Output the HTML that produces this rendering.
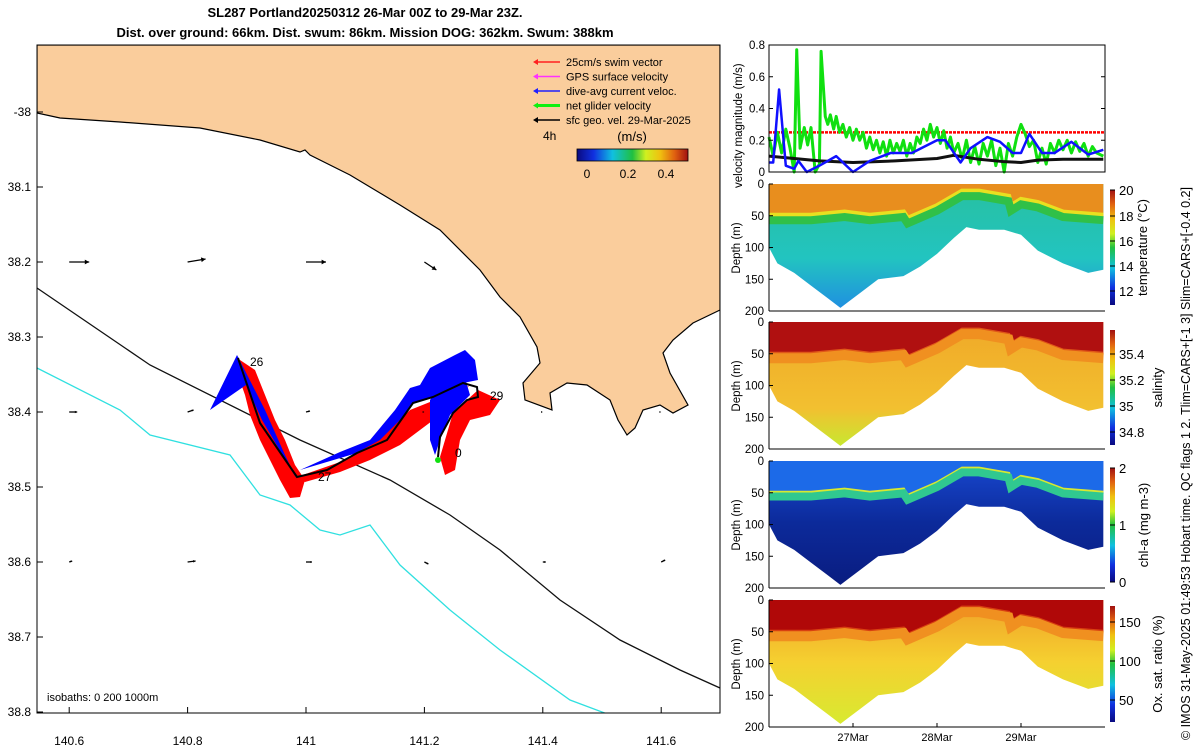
<!DOCTYPE html>
<html><head><meta charset="utf-8"><style>
body{margin:0;background:#fff;width:1200px;height:750px;overflow:hidden;font-family:"Liberation Sans",sans-serif}
svg text{font-family:"Liberation Sans",sans-serif}
</style></head><body>
<svg id="s" width="1200" height="750" xmlns="http://www.w3.org/2000/svg">
<defs>
<linearGradient id="cbjet" x1="0" x2="1" y1="0" y2="0">
<stop offset="0" stop-color="#0a0a80"/><stop offset="0.15" stop-color="#1030e0"/><stop offset="0.32" stop-color="#10c0e0"/><stop offset="0.5" stop-color="#20c040"/><stop offset="0.62" stop-color="#d0f020"/><stop offset="0.75" stop-color="#f0c010"/><stop offset="0.88" stop-color="#e06010"/><stop offset="1" stop-color="#a01010"/></linearGradient>
<linearGradient id="cbjetv" x1="0" x2="0" y1="1" y2="0">
<stop offset="0" stop-color="#0a0a80"/><stop offset="0.15" stop-color="#1030e0"/><stop offset="0.32" stop-color="#10c0e0"/><stop offset="0.5" stop-color="#20c040"/><stop offset="0.62" stop-color="#d0f020"/><stop offset="0.75" stop-color="#f0c010"/><stop offset="0.88" stop-color="#e06010"/><stop offset="1" stop-color="#a01010"/></linearGradient>
<linearGradient id="gT" x1="0" x2="0" y1="0" y2="1"><stop offset="0" stop-color="#28c0a0"/><stop offset="0.6" stop-color="#22c4c0"/><stop offset="1" stop-color="#2090e0"/></linearGradient>
<linearGradient id="gS" x1="0" x2="0" y1="0" y2="1"><stop offset="0" stop-color="#f0a828"/><stop offset="0.7" stop-color="#f2c030"/><stop offset="1" stop-color="#c8e830"/></linearGradient>
<linearGradient id="gC" x1="0" x2="0" y1="0" y2="1"><stop offset="0" stop-color="#1848d0"/><stop offset="0.5" stop-color="#0c2a9a"/><stop offset="1" stop-color="#0a1c80"/></linearGradient>
<linearGradient id="gO" x1="0" x2="0" y1="0" y2="1"><stop offset="0" stop-color="#f0a028"/><stop offset="0.5" stop-color="#f5d030"/><stop offset="1" stop-color="#d8ea30"/></linearGradient>
<clipPath id="mapclip"><rect x="37" y="45" width="683" height="668"/></clipPath>
</defs>
<g id="title" font-weight="bold" font-size="13" text-anchor="middle">
<text x="365" y="17">SL287 Portland20250312 26-Mar 00Z to 29-Mar 23Z.</text>
<text x="365" y="37">Dist. over ground: 66km. Dist. swum: 86km. Mission DOG: 362km. Swum: 388km</text>
</g>
<g id="map" clip-path="url(#mapclip)"></g>
<g id="mapax"></g>
<g id="right"></g>
<text transform="translate(1190,740) rotate(-90)" font-size="12.5">© IMOS 31-May-2025 01:49:53 Hobart time. QC flags 1  2. Tlim=CARS+[-1 3] Slim=CARS+[-0.4 0.2]</text>
</svg>
<script>
const NS="http://www.w3.org/2000/svg";
function mk(p,tag,at,txt){const e=document.createElementNS(NS,tag);for(const k in at)e.setAttribute(k,at[k]);if(txt!==undefined)e.textContent=txt;p.appendChild(e);return e;}
// ---------- MAP DATA ----------
const lonTicks=[140.6,140.8,141,141.2,141.4,141.6];
const latTicks=[38,38.1,38.2,38.3,38.4,38.5,38.6,38.7,38.8];
const latLabels=["-38","38.1","38.2","38.3","38.4","38.5","38.6","38.7","38.8"];
const vecLon=[140.6,140.8,141,141.2,140.6,140.8,141,141.2,141.4,141.6,140.6,140.8,141,141.2,141.4,141.6];
const vecLat=[38.2,38.2,38.2,38.2,38.4,38.4,38.4,38.4,38.4,38.4,38.6,38.6,38.6,38.6,38.6,38.6];
const vecU=[0.2,0.18,0.2,0.12,0.08,0.06,0.04,0.0,0.0,0.0,0.03,0.08,0.06,0.04,0.03,0.04];
const vecV=[0,0.03,0,-0.08,0,0.02,0.01,0,0,0,0.01,0.01,0,-0.02,0,0.02];
const mx=lon=>306+(lon-141)*592, my=lat=>112+(lat-38)*750;
const map=document.getElementById('map'), mapax=document.getElementById('mapax');
const land=mk(map,'path',{d:"M37,45 L720,45 L720,310 L693,323 L673,340 L663,353 L670,373 L688,405 L673,413 L660,405 L643,410 L635,428 L627,435 L618,420 L610,400 L587,385 L567,383 L550,393 L552,410 L525,400 L523,383 L540,363 L537,347 L520,317 L500,297 L480,270 L440,230 L400,205 L350,175 L310,155 L305,150 L300,152 L260,140 L200,128 L120,122 L60,118 L37,113 Z",fill:"#facd9c",stroke:"#000","stroke-width":1.2});


const iso1000=mk(map,'polyline',{points:"37,288 150,365 300,440 390,480 450,515 500,550 560,600 620,640 680,670 720,688",fill:"none",stroke:"#111","stroke-width":1.3});


const iso200=mk(map,'polyline',{points:"37,368 120,410 150,435 230,455 260,495 290,505 320,530 340,535 370,525 400,565 450,610 500,650 570,700 610,715",fill:"none",stroke:"#30e0e0","stroke-width":1.3});


const fans=[["#ff0000","240,360 255,370 265,395 275,420 285,440 295,465 305,480 300,497 290,498 280,480 270,460 260,440 250,415 245,395 238,375"],
["#0000ff","237,355 210,410 246,385 262,420 296,478 285,455 265,410"],
["#0000ff","300,470 340,452 370,440 395,410 410,388 420,385 430,368 455,355 465,350 475,360 478,380 463,383 433,397 413,403 387,440 357,453"],
["#ff0000","297,477 340,462 380,440 410,410 430,402 455,395 470,385 455,400 440,415 420,430 400,445 370,460 340,472 305,482"],
["#0000ff","430,400 440,385 465,378 470,395 450,415 440,440 435,455 430,440"],
["#ff0000","478,390 500,400 490,415 470,420 460,440 455,470 445,475 440,457 453,413 467,400"]];
fans.forEach((f,i)=>{const p=mk(map,'polygon',{points:f[1],fill:f[0]});

});
const trk=mk(map,'polyline',{points:"238,358 260,423 297,477 327,470 357,453 387,440 413,403 433,397 463,383 477,387 478,397 467,400 453,413 440,437 438,457",fill:"none",stroke:"#000","stroke-width":2});


mk(map,'circle',{cx:438,cy:460,r:3,fill:"#10e010"});
[["26",250,366],["27",318,481],["29",490,400],["0",455,457]].forEach(t=>{const e=mk(map,'text',{x:t[1],y:t[2],"font-size":12},t[0]);

});
vecLon.forEach((lo,i)=>{const x=mx(lo),y=my(vecLat[i]),x2=x+vecU[i]*100,y2=y-vecV[i]*100;
const g=mk(map,'g',{});


mk(g,'line',{x1:x,y1:y,x2:x2,y2:y2,stroke:"#000","stroke-width":1.3});
const a=Math.atan2(y2-y,x2-x);const L=Math.max(2,Math.min(5,Math.hypot(x2-x,y2-y)/3));
mk(g,'polygon',{points:`${x2},${y2} ${x2-L*Math.cos(a-0.5)},${y2-L*Math.sin(a-0.5)} ${x2-L*Math.cos(a+0.5)},${y2-L*Math.sin(a+0.5)}`,fill:"#000"});});
const lg=mk(map,'g',{"font-size":11});


[["#ff2020","25cm/s swim vector"],["#ff30ff","GPS surface velocity"],["#2020ff","dive-avg current veloc."],["#10f010","net glider velocity"],["#000","sfc geo. vel. 29-Mar-2025"]].forEach((r,i)=>{const y=62+i*14.5;
const e=mk(lg,'g',{});


mk(e,'line',{x1:536,y1:y,x2:560,y2:y,stroke:r[0],"stroke-width":i==3?3:1.5});
mk(e,'polygon',{points:`${533},${y} ${538},${y-3} ${538},${y+3}`,fill:r[0]});
mk(e,'text',{x:566,y:y+4},r[1]);});
mk(lg,'text',{x:543,y:140,"font-size":12},"4h");
mk(lg,'text',{x:632,y:141,"font-size":13,"text-anchor":"middle"},"(m/s)");
const cb=mk(lg,'rect',{x:577,y:149,width:111,height:12,fill:"url(#cbjet)",stroke:"#000","stroke-width":0.8});


[["0",587],["0.2",628],["0.4",666]].forEach(t=>mk(lg,'text',{x:t[1],y:178,"font-size":12,"text-anchor":"middle"},t[0]));
mk(map,'text',{x:47,y:701,"font-size":11},"isobaths: 0   200  1000m");
mk(mapax,'rect',{x:37,y:45,width:683,height:668,fill:"none",stroke:"#000","stroke-width":1});
lonTicks.forEach(l=>{const x=mx(l);mk(mapax,'line',{x1:x,y1:713,x2:x,y2:707,stroke:"#000"});
const t=mk(mapax,'text',{x:x,y:745,"font-size":12,"text-anchor":"middle"},String(l));

});
latTicks.forEach((l,i)=>{const y=my(l);mk(mapax,'line',{x1:37,y1:y,x2:43,y2:y,stroke:"#000"});
const t=mk(mapax,'text',{x:31,y:y+4,"font-size":12,"text-anchor":"end"},latLabels[i]);

});
// ---------- RIGHT PANELS ----------
const greenT=[0,0.05,0.1,0.15,0.2,0.25,0.3,0.33,0.37,0.42,0.46,0.5,0.55,0.6,0.62,0.67,0.7,0.73,0.77,0.8,0.84,0.88,0.92,0.96,1.0,1.04,1.08,1.12,1.16,1.2,1.24,1.28,1.32,1.36,1.4,1.44,1.48,1.52,1.56,1.6,1.64,1.68,1.72,1.76,1.8,1.84,1.88,1.92,1.96,2.0,2.04,2.08,2.12,2.16,2.2,2.25,2.3,2.35,2.4,2.45,2.5,2.55,2.6,2.65,2.7,2.75,2.8,2.85,2.9,2.95,3.0,3.05,3.1,3.15,3.2,3.25,3.3,3.35,3.4,3.45,3.5,3.55,3.6,3.65,3.7,3.75,3.8,3.85,3.9,3.98];
const greenV=[0.22,0.1,0.25,0.12,0.27,0.15,0.0,0.77,0.15,0.28,0.17,0.28,0.0,0.05,0.76,0.35,0.3,0.36,0.27,0.35,0.25,0.3,0.22,0.28,0.2,0.27,0.2,0.25,0.15,0.22,0.14,0.2,0.12,0.19,0.1,0.2,0.12,0.18,0.13,0.2,0.1,0.18,0.12,0.22,0.18,0.27,0.2,0.3,0.22,0.28,0.18,0.26,0.15,0.22,0.12,0.18,0.08,0.2,0.06,0.16,0.05,0.18,0.1,0.2,0.04,0.15,0.0,0.18,0.1,0.22,0.3,0.24,0.16,0.2,0.06,0.15,0.05,0.18,0.12,0.2,0.14,0.2,0.12,0.19,0.13,0.18,0.1,0.16,0.12,0.1];
const blueT=[0,0.05,0.12,0.2,0.3,0.35,0.45,0.6,0.8,1.0,1.2,1.45,1.7,2.0,2.1,2.28,2.4,2.6,2.75,2.9,3.0,3.1,3.25,3.4,3.6,3.8,3.98];
const blueV=[0.06,0.06,0.52,0.04,0.02,0.07,0.0,0.04,0.1,0.0,0.07,0.12,0.12,0.2,0.2,0.06,0.15,0.22,0.19,0.12,0.12,0.24,0.12,0.12,0.19,0.11,0.14];
const blackT=[0,0.3,0.6,1.0,1.5,2.0,2.2,2.5,2.8,3.0,3.2,3.5,3.98];
const blackV=[0.1,0.085,0.07,0.06,0.07,0.085,0.105,0.08,0.065,0.06,0.075,0.08,0.08];
const swimSpeed=0.25;
const velTicks=[0,0.2,0.4,0.6,0.8];
const dayTicks=[1,2,3];const dayLabels=["27Mar","28Mar","29Mar"];
const secT=[0,0.1,0.3,0.5,0.7,0.85,0.95,1.1,1.3,1.6,1.8,2.0,2.2,2.35,2.5,2.8,3.0,3.2,3.5,3.8,3.98];
const secBottom=[100,125,140,160,180,195,185,170,150,145,130,110,85,68,72,72,80,105,125,140,135];
const mldT=[0,0.5,0.9,1.2,1.6,1.65,2.0,2.3,2.5,2.85,2.88,3.0,3.2,3.5,3.98];
const mldD=[50,50,45,50,45,55,35,12,12,20,35,25,30,45,50];
const R=document.getElementById('right');
const X0=769,X1=1105,tx=d=>X0+d*84;
function axesBox(y0,y1){mk(R,'rect',{x:X0,y:y0,width:X1-X0,height:y1-y0,fill:"none",stroke:"#000","stroke-width":1});}
const vy=v=>172-v*(127/0.8);
const vp=mk(R,'g',{});


mk(vp,'line',{x1:X0,y1:vy(swimSpeed),x2:X1,y2:vy(swimSpeed),stroke:"#ff0000","stroke-width":2.5,"stroke-dasharray":"3,1"});
function series(T,V,col,w,name){const l=mk(vp,'polyline',{points:T.map((t,i)=>tx(t)+","+vy(V[i])).join(" "),fill:"none",stroke:col,"stroke-width":w,"stroke-linejoin":"round"});

}
series(greenT,greenV,"#10e010",3,"net-glider-velocity-line");
series(blackT,blackV,"#111",3,"geo-velocity-line");
series(blueT,blueV,"#1010ff",2.5,"current-velocity-line");
axesBox(45,172);
velTicks.forEach(v=>{const y=vy(v);mk(R,'line',{x1:X0,y1:y,x2:X0+4,y2:y,stroke:"#000"});mk(R,'line',{x1:X1,y1:y,x2:X1-4,y2:y,stroke:"#000"});
mk(R,'text',{x:X0-4,y:y+4,"font-size":11.5,"text-anchor":"end"},String(v));});
mk(R,'text',{transform:"translate(742,188) rotate(-90)","font-size":11.5},"velocity magnitude (m/s)");
const panels=[{y0:184,name:"temperature",grad:"gT",surf:"#e88e1e",band1:"#e8e020",band2:"#30c048",bw:[6,8],lab:"temperature (°C)",cb:[190,305],cbt:[["20",190],["18",216],["16",241],["14",266],["12",291]],lx:1147},
{y0:322,name:"salinity",grad:"gS",surf:"#b01010",band1:"#e05818",band2:"#f09020",bw:[4,10],lab:"salinity",cb:[330,445],cbt:[["35.4",354],["35.2",380],["35",406],["34.8",432]],lx:1162},
{y0:461,name:"chlorophyll",grad:"gC",surf:"#1c6ae8",band1:"#d8e830",band2:"#30c890",bw:[4,8],lab:"chl-a (mg m-3)",cb:[468,582],cbt:[["2",468],["1",525],["0",582]],lx:1148},
{y0:600,name:"oxygen",grad:"gO",surf:"#b00808",band1:"#d84010",band2:"#f09020",bw:[4,10],lab:"Ox. sat. ratio (%)",cb:[606,722],cbt:[["150",622],["100",661],["50",700]],lx:1162}];
panels.forEach((P,pi)=>{const dy=d=>P.y0+d*(127/200);
const g=mk(R,'g',{});


const top=secT.map(t=>tx(t)+","+dy(0));
const bot=secT.map((t,i)=>tx(t)+","+dy(secBottom[i])).reverse();
mk(g,'polygon',{points:top.concat(bot).join(" "),fill:`url(#${P.grad})`});
const m=mldT.map((t,i)=>tx(t)+","+dy(mldD[i]));
mk(g,'polygon',{points:mldT.map(t=>tx(t)+","+dy(0)).concat(m.slice().reverse()).join(" "),fill:P.surf});
mk(g,'polyline',{points:m.join(" "),fill:"none",stroke:P.band1,"stroke-width":P.bw[0]});
mk(g,'polyline',{points:mldT.map((t,i)=>tx(t)+","+dy(mldD[i]+P.bw[0]/2+P.bw[1]/2)).join(" "),fill:"none",stroke:P.band2,"stroke-width":P.bw[1]});
mk(R,'line',{x1:X0,y1:P.y0,x2:X0,y2:P.y0+127,stroke:"#000"});
mk(R,'line',{x1:X0,y1:P.y0+127,x2:X1,y2:P.y0+127,stroke:"#000"});
[0,50,100,150,200].forEach(d=>{const y=dy(d);mk(R,'line',{x1:X0,y1:y,x2:X0+4,y2:y,stroke:"#000"});
mk(R,'text',{x:X0-5,y:y+4,"font-size":11.5,"text-anchor":"end"},String(d));});
mk(R,'text',{transform:`translate(740,${P.y0+64}) rotate(-90)`,"font-size":11.5,"text-anchor":"middle"},"Depth (m)");
const c=mk(R,'rect',{x:1110,y:P.cb[0],width:5,height:P.cb[1]-P.cb[0],fill:"url(#cbjetv)"});


P.cbt.forEach(t=>{mk(R,'line',{x1:1110,y1:t[1],x2:1115,y2:t[1],stroke:"#000"});mk(R,'text',{x:1119,y:t[1]+5,"font-size":13},t[0]);});
mk(R,'text',{transform:`translate(${P.lx},${(P.cb[0]+P.cb[1])/2}) rotate(-90)`,"font-size":13,"text-anchor":"middle"},P.lab);});
dayTicks.forEach((d,i)=>{const x=tx(d);mk(R,'line',{x1:x,y1:727,x2:x,y2:723,stroke:"#000"});
const t=mk(R,'text',{x:x,y:741,"font-size":11,"text-anchor":"middle"},dayLabels[i]);

});
</script>
</body></html>
